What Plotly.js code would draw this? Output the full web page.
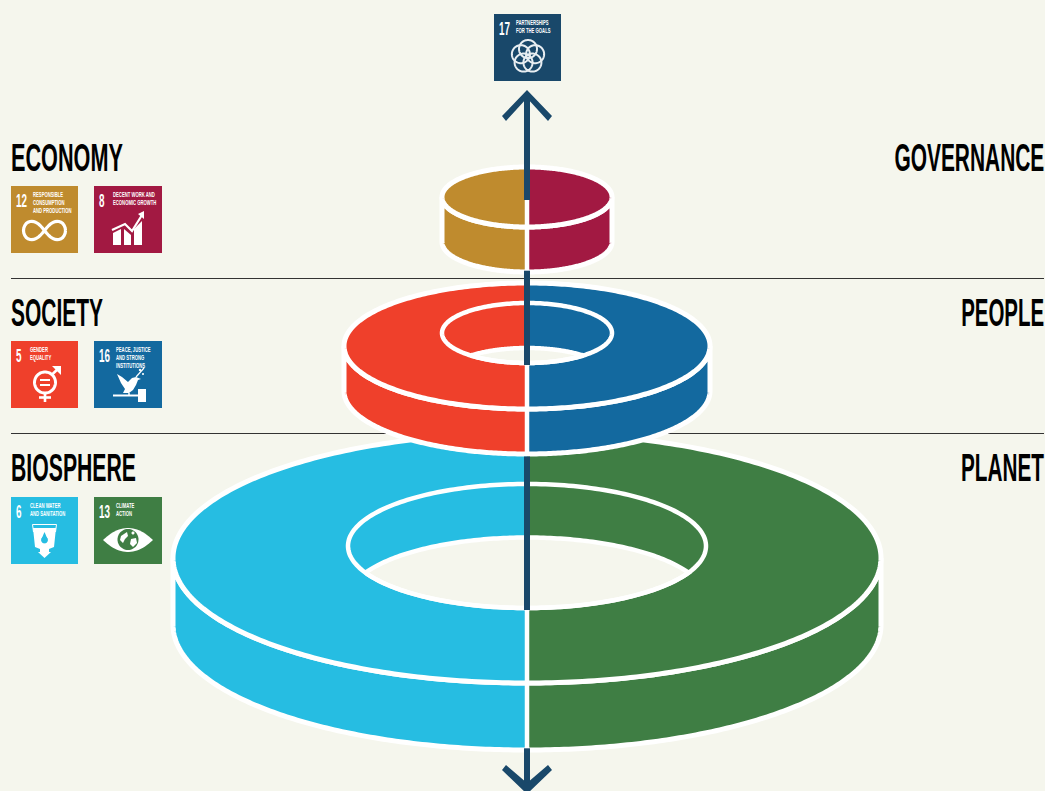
<!DOCTYPE html>
<html>
<head>
<meta charset="utf-8">
<script src="https://cdn.plot.ly/plotly-3.0.1.min.js"></script>
<style>html,body{margin:0;padding:0;background:#F5F6ED}#chart{width:1045px;height:791px}</style>
</head>
<body>
<div id="chart"></div>
<script>
// ---- content ----
const leftHeadings = ['ECONOMY', 'SOCIETY', 'BIOSPHERE'];
const rightHeadings = ['GOVERNANCE', 'PEOPLE', 'PLANET'];
const goalNumbers = ['12', '8', '5', '16', '6', '13', '17'];
const goalCaptions = [
  ['RESPONSIBLE', 'CONSUMPTION', 'AND PRODUCTION'],
  ['DECENT WORK AND', 'ECONOMIC GROWTH'],
  ['GENDER', 'EQUALITY'],
  ['PEACE, JUSTICE', 'AND STRONG', 'INSTITUTIONS'],
  ['CLEAN WATER', 'AND SANITATION'],
  ['CLIMATE', 'ACTION'],
  ['PARTNERSHIPS', 'FOR THE GOALS']
];

// ---- styles ----
const BG = '#F5F6ED', WHITE = '#FFFFFF', NAVY = '#19486A', RULE = '#333333';
const FONT = '"Liberation Sans", Arial, sans-serif';
const goalColors = ['#BF8B2E', '#A21942', '#EF402B', '#13699F', '#26BDE2', '#3F7E44', '#19486A'];
const goalBoxes = [[11,186,67],[94,186,68],[11,341,67],[94,341,68],[11,497,67],[94,497,68],[494,14,67]];
const leftWidths = [112, 92, 125], rightWidths = [150, 83, 83];
const CX = 527;
const discs = [
  {cy:558, rx:354, ry:125, th:67, left:'#26BDE2', right:'#3F7E44', hole:{cy:546, rx:179, ry:62, floor:599.5}},
  {cy:346, rx:183, ry:63,  th:45, left:'#EF402B', right:'#13699F', hole:{cy:333, rx:85, ry:30, floor:378}},
  {cy:197, rx:85,  ry:30,  th:45, left:'#BF8B2E', right:'#A21942'}
];

// ---- helpers ----
const traces = [];
const DEG = Math.PI / 180;
function arc(cx, cy, rx, ry, a0, a1, n) {
  n = n || 120;
  const xs = [], ys = [];
  for (let i = 0; i <= n; i++) {
    const t = (a0 + (a1 - a0) * i / n) * DEG;
    xs.push(cx + rx * Math.cos(t));
    ys.push(cy + ry * Math.sin(t));
  }
  return [xs, ys];
}
function poly(xs, ys, fill, lineColor, lineWidth) {
  traces.push({
    type: 'scatter', mode: 'lines', x: xs, y: ys, fill: 'toself', fillcolor: fill,
    line: {color: lineColor || fill, width: lineColor ? lineWidth : 0, simplify: false},
    hoverinfo: 'skip', showlegend: false
  });
}
function stroke(xs, ys, color, width) {
  traces.push({
    type: 'scatter', mode: 'lines', x: xs, y: ys,
    line: {color: color, width: width, simplify: false},
    hoverinfo: 'skip', showlegend: false
  });
}
function join(...parts) {
  return [parts.flatMap(p => p[0]), parts.flatMap(p => p[1])];
}
function drawDisc(d) {
  const W = 5, bot = d.cy + d.th;
  let p = join(arc(CX, d.cy, d.rx, d.ry, 90, 180), arc(CX, bot, d.rx, d.ry, 180, 90));
  poly(p[0], p[1], d.left, WHITE, W);
  p = join(arc(CX, d.cy, d.rx, d.ry, 90, 0), arc(CX, bot, d.rx, d.ry, 0, 90));
  poly(p[0], p[1], d.right, WHITE, W);
  p = arc(CX, d.cy, d.rx, d.ry, 90, 270, 180); poly(p[0], p[1], d.left);
  p = arc(CX, d.cy, d.rx, d.ry, -90, 90, 180); poly(p[0], p[1], d.right);
  p = arc(CX, d.cy, d.rx, d.ry, 0, 360, 360); stroke(p[0], p[1], WHITE, W);
  if (d.hole) {
    const h = d.hole;
    const mid = Math.asin(((h.floor - h.cy) / 2) / h.ry) / DEG;
    const lens = join(arc(CX, h.floor, h.rx, h.ry, 180 + mid, 360 - mid), arc(CX, h.cy, h.rx, h.ry, mid, 180 - mid));
    poly(lens[0].concat(lens[0][0]), lens[1].concat(lens[1][0]), BG, WHITE, 4.5);
    p = arc(CX, h.cy, h.rx, h.ry, 0, 360, 240); stroke(p[0], p[1], WHITE, 4.5);
  }
}
function ring(cx, cy, r, color, w) { const p = arc(cx, cy, r, r, 0, 360, 72); stroke(p[0], p[1], color, w); }
function dot(cx, cy, r, color) { const p = arc(cx, cy, r, r, 0, 360, 48); poly(p[0], p[1], color); }

// ---- rules ----
stroke([11, 1044], [278.5, 278.5], RULE, 1);
stroke([11, 1044], [433.5, 433.5], RULE, 1);

// ---- discs ----
discs.forEach(drawDisc);

// ---- axis arrow ----
[[200, 270.7], [365, 456], [610, 748]].forEach(s => stroke([CX, CX], s, WHITE, 4.5));
[[96, 200], [270.7, 365], [456.6, 610], [748.3, 786]].forEach(s => stroke([CX, CX], s, NAVY, 6));
poly([527, 552, 548, 527, 506, 502], [90, 116, 121, 98, 121, 116], NAVY);
poly([527, 552, 548, 527, 506, 502], [794, 770, 765, 783, 765, 770], NAVY);

// ---- goal tiles ----
goalBoxes.forEach((b, i) => {
  poly([b[0], b[0] + b[2], b[0] + b[2], b[0], b[0]], [b[1], b[1], b[1] + 67, b[1] + 67, b[1]], goalColors[i]);
});
const rel = (b, xs, ys) => [xs.map(v => v + b[0]), ys.map(v => v + b[1])];
function tPoly(b, xs, ys, c) { const p = rel(b, xs, ys); poly(p[0], p[1], c); }
function tLine(b, xs, ys, c, w) { const p = rel(b, xs, ys); stroke(p[0], p[1], c, w); }

// 12: infinity loop
(() => {
  const b = goalBoxes[0], xs = [], ys = [];
  for (let a = 0; a <= 360; a += 6) {
    const t = a * DEG, k = 1 + Math.sin(t) * Math.sin(t);
    xs.push(33.5 + 21 * Math.cos(t) / k);
    ys.push(44.5 + 26 * Math.sin(t) * Math.cos(t) / k);
  }
  tLine(b, xs, ys, WHITE, 3.2);
})();
// 8: bars and rising arrow
(() => {
  const b = goalBoxes[1];
  tPoly(b, [19, 27, 27, 19], [47, 43, 59, 59], WHITE);
  tPoly(b, [30, 37, 37, 30], [43, 49, 59, 59], WHITE);
  tPoly(b, [40, 48, 48, 40], [43, 35, 59, 59], WHITE);
  tLine(b, [18, 31, 38, 48], [44, 38, 45, 29], WHITE, 2.2);
  tPoly(b, [44, 50, 50], [28, 25, 33], WHITE);
})();
// 5: gender symbol
(() => {
  const b = goalBoxes[2], c = rel(b, [34], [41.5]);
  ring(c[0][0], c[1][0], 10.5, WHITE, 3);
  tLine(b, [29, 39], [39, 39], WHITE, 2);
  tLine(b, [29, 39], [44, 44], WHITE, 2);
  tLine(b, [34, 34], [53, 61], WHITE, 2.6);
  tLine(b, [28, 40], [56.5, 56.5], WHITE, 2.6);
  tLine(b, [41, 48], [33.5, 27], WHITE, 2.6);
  tPoly(b, [41, 50, 50], [25, 25, 34], WHITE);
})();
// 16: dove and gavel
(() => {
  const b = goalBoxes[3];
  tPoly(b, [23, 28, 34, 38, 42, 47, 44, 42, 39, 35, 29, 31, 27], [33, 36, 41, 37, 36, 38, 39, 44, 49, 52, 52, 48, 42], WHITE);
  tLine(b, [42, 50], [36, 27], WHITE, 1.2);
  dot(b[0] + 46, b[1] + 29, 1.2, WHITE);
  dot(b[0] + 49, b[1] + 33, 1, WHITE);
  tLine(b, [19, 46], [54.5, 54.5], WHITE, 2);
  tPoly(b, [44, 52, 52, 44], [48, 48, 61, 61], WHITE);
  tLine(b, [35, 35], [52, 54], WHITE, 1.5);
})();
// 6: glass with drop
(() => {
  const b = goalBoxes[4];
  tLine(b, [21.5, 22.5], [27.5, 35], WHITE, 1);
  tLine(b, [45.5, 44.5], [27.5, 35], WHITE, 1);
  tLine(b, [21.5, 45.5], [27.5, 27.5], WHITE, 1);
  tPoly(b, [22, 45, 43, 38, 38, 40, 33.5, 27, 29, 29, 24], [31, 31, 50, 52, 55, 55, 61, 55, 55, 52, 50], WHITE);
  tPoly(b, [33.5, 30.5, 36.5], [35, 42, 42], goalColors[4]);
  dot(b[0] + 33.5, b[1] + 43, 3.4, goalColors[4]);
})();
// 13: eye and globe
(() => {
  const b = goalBoxes[5], xs = [], ys = [];
  for (let u = -25; u <= 25; u += 2) { xs.push(34 + u); ys.push(43 - 12 * (1 - u * u / 625)); }
  for (let u = 25; u >= -25; u -= 2) { xs.push(34 + u); ys.push(43 + 12 * (1 - u * u / 625)); }
  tPoly(b, xs, ys, WHITE);
  dot(b[0] + 34, b[1] + 42.5, 10.5, goalColors[5]);
  tPoly(b, [27, 33, 34, 31, 29, 26], [39, 35, 39, 42, 46, 43], WHITE);
  tPoly(b, [37, 42, 43, 39, 36], [42, 41, 46, 50, 47], WHITE);
  dot(b[0] + 39, b[1] + 36, 1.5, WHITE);
})();
// 17: five interlocking rings
(() => {
  const b = goalBoxes[6];
  for (let k = 0; k < 5; k++) {
    const t = (-90 + 72 * k) * DEG;
    ring(b[0] + 34 + 7.5 * Math.cos(t), b[1] + 42.5 + 7.5 * Math.sin(t), 9, '#E8EEF2', 2);
  }
})();

// ---- text ----
const annotations = [];
const squeeze = [];   // horizontal condensing of each annotation: target width or factor
function label(x, y, text, size, anchor, color, fit) {
  annotations.push({
    xref: 'x', yref: 'y', x: x, y: y, text: '<b>' + text + '</b>', showarrow: false,
    xanchor: anchor, yanchor: 'middle', borderpad: 0, borderwidth: 0,
    font: {family: FONT, size: size, color: color}
  });
  squeeze.push(fit);
}
const headingRows = [158, 313, 468];
leftHeadings.forEach((t, i) => label(11, headingRows[i], t, 38, 'left', '#000000', {width: leftWidths[i]}));
rightHeadings.forEach((t, i) => label(1044, headingRows[i], t, 38, 'right', '#000000', {width: rightWidths[i]}));
goalBoxes.forEach((b, i) => {
  label(b[0] + 5, b[1] + 14, goalNumbers[i], 19, 'left', WHITE, {factor: 0.52});
  const x = goalNumbers[i].length > 1 ? 21.5 : 18.5;
  goalCaptions[i].forEach((line, j) => label(b[0] + x, b[1] + 8.5 + j * 8, line, 7, 'left', WHITE, {factor: 0.6}));
});

Plotly.newPlot('chart', traces, {
  width: 1045, height: 791,
  margin: {l: 0, r: 0, t: 0, b: 0},
  paper_bgcolor: BG, plot_bgcolor: BG,
  showlegend: false,
  xaxis: {range: [0, 1045], visible: false, fixedrange: true},
  yaxis: {range: [791, 0], visible: false, fixedrange: true},
  annotations: annotations
}, {displayModeBar: false, staticPlot: true}).then(() => {
  // No condensed face is installed: condense the real text about its anchor.
  squeeze.forEach((fit, i) => {
    const el = document.querySelector('.annotation[data-index="' + i + '"] text');
    if (!el) return;
    const box = el.getBBox();
    const sx = fit.width ? fit.width / box.width : fit.factor;
    const ax = annotations[i].xanchor === 'right' ? box.x + box.width : box.x;
    el.setAttribute('transform', 'translate(' + ax + ' 0) scale(' + sx + ' 1) translate(' + (-ax) + ' 0)');
  });
});
</script>
</body>
</html>
